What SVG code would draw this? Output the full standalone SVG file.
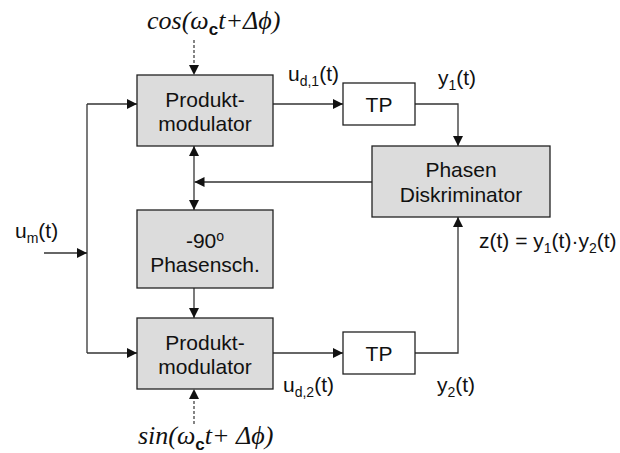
<svg xmlns="http://www.w3.org/2000/svg" width="620" height="453" viewBox="0 0 620 453">
  <defs>
    <marker id="arrow" viewBox="0 0 10 10" refX="10" refY="5" markerWidth="10" markerHeight="10" markerUnits="userSpaceOnUse" orient="auto">
      <path d="M0,0 L10,5 L0,10 z" fill="#111"/>
    </marker>
    <style>
      .box { fill: #dcdcdc; stroke: #222; stroke-width: 1.3; }
      .wbox { fill: #fff; stroke: #222; stroke-width: 1.3; }
      .lbl { font-family: "Liberation Sans", Arial, sans-serif; font-size: 21px; fill: #111; }
      .mid { text-anchor: middle; }
      .sub { font-size: 14px; }
      .math { font-family: "Liberation Serif", "Times New Roman", serif; font-style: italic; font-size: 26px; fill: #111; }
      .csub { font-family: "Liberation Sans", Arial, sans-serif; font-style: normal; font-weight: bold; font-size: 17px; }
      .wire { fill: none; stroke: #333; stroke-width: 1.3; }
      .dash { fill: none; stroke: #444; stroke-width: 1.3; stroke-dasharray: 3 2; }
    </style>
  </defs>

  <!-- connectors -->
  <g id="connectors">
    <path class="dash" d="M194,40 V75" marker-end="url(#arrow)"/>
    <path class="dash" d="M194,424 V389" marker-end="url(#arrow)"/>
    <path class="wire" d="M87,104 V353"/>
    <path class="wire" d="M87,104 H137" marker-end="url(#arrow)"/>
    <path class="wire" d="M87,353 H137" marker-end="url(#arrow)"/>
    <path class="wire" d="M44,253 H87" marker-end="url(#arrow)"/>
    <path class="wire" d="M273,104 H343" marker-end="url(#arrow)"/>
    <path class="wire" d="M415,104 H458 V146" marker-end="url(#arrow)"/>
    <path class="wire" d="M372,182 H194.5" marker-end="url(#arrow)"/>
    <path class="wire" d="M194,182 V146" marker-end="url(#arrow)"/>
    <path class="wire" d="M194,182 V210" marker-end="url(#arrow)"/>
    <path class="wire" d="M194,288 V318" marker-end="url(#arrow)"/>
    <path class="wire" d="M273,353 H343" marker-end="url(#arrow)"/>
    <path class="wire" d="M415,353 H458 V217" marker-end="url(#arrow)"/>
  </g>

  <!-- upper product modulator -->
  <g id="mod1">
    <rect class="box" x="137" y="75" width="136" height="71"/>
    <text class="lbl mid" x="205" y="107">Produkt-</text>
    <text class="lbl mid" x="205" y="131">modulator</text>
  </g>

  <!-- phase shifter -->
  <g id="shift">
    <rect class="box" x="137" y="210" width="136" height="78"/>
    <text class="lbl mid" x="205" y="248">-90<tspan dy="-7" font-size="14">o</tspan></text>
    <text class="lbl mid" x="205" y="272">Phasensch.</text>
  </g>

  <!-- lower product modulator -->
  <g id="mod2">
    <rect class="box" x="137" y="318" width="136" height="71"/>
    <text class="lbl mid" x="205" y="350">Produkt-</text>
    <text class="lbl mid" x="205" y="374">modulator</text>
  </g>

  <!-- low-pass filters -->
  <g id="tp1">
    <rect class="wbox" x="343" y="83" width="72" height="42"/>
    <text class="lbl mid" x="379" y="112">TP</text>
  </g>
  <g id="tp2">
    <rect class="wbox" x="343" y="332" width="72" height="42"/>
    <text class="lbl mid" x="379" y="361">TP</text>
  </g>

  <!-- phase discriminator -->
  <g id="disc">
    <rect class="box" x="372" y="146" width="178" height="71"/>
    <text class="lbl mid" x="461" y="177">Phasen</text>
    <text class="lbl mid" x="461" y="202">Diskriminator</text>
  </g>

  <!-- signal labels -->
  <g id="labels">
    <text class="math" x="147" y="29">cos(ω<tspan class="csub" dy="6">c</tspan><tspan dy="-6">t+Δϕ)</tspan></text>
    <text class="math" x="138" y="444">sin(ω<tspan class="csub" dy="6">c</tspan><tspan dy="-6">t+ Δϕ)</tspan></text>
    <text class="lbl" x="15" y="238">u<tspan class="sub" dy="5">m</tspan><tspan dy="-5">(t)</tspan></text>
    <text class="lbl" x="288" y="81">u<tspan class="sub" dy="5">d,1</tspan><tspan dy="-5">(t)</tspan></text>
    <text class="lbl" x="438" y="85">y<tspan class="sub" dy="5">1</tspan><tspan dy="-5">(t)</tspan></text>
    <text class="lbl" x="283" y="392">u<tspan class="sub" dy="5">d,2</tspan><tspan dy="-5">(t)</tspan></text>
    <text class="lbl" x="437" y="392">y<tspan class="sub" dy="5">2</tspan><tspan dy="-5">(t)</tspan></text>
    <text class="lbl" x="479" y="248">z(t) = y<tspan class="sub" dy="5">1</tspan><tspan dy="-5">(t)·y</tspan><tspan class="sub" dy="5">2</tspan><tspan dy="-5">(t)</tspan></text>
  </g>
</svg>
